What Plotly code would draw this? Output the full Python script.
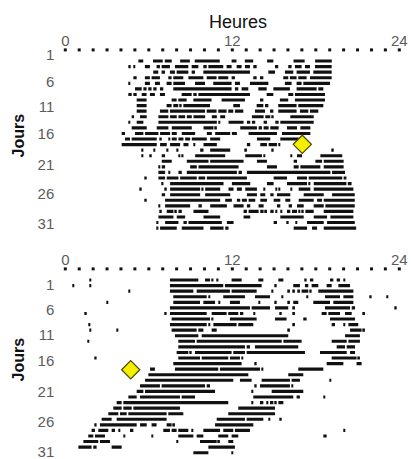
import plotly.graph_objects as go

# ---------------- DATA ----------------
hour_ticks = [0, 12, 24]
hour_tick_text = ["0", "12", "24"]
hour_dots = list(range(25))
day_tick_text = ["1", "6", "11", "16", "21", "26", "31"]

top_days = list(range(1, 32))
top_segments = [
    [(5.25,5.6),(6.3,7.0),(7.15,7.65),(8.25,8.95),(9.3,11.1),(11.95,12.3),(12.9,13.5),(14.5,14.95),(16.4,17.2),(17.95,19.15)],
    [(4.53,4.7),(4.89,5.0),(5.72,6.08),(6.56,6.8),(6.92,7.52),(7.88,8.84),(9.08,9.56),(9.92,10.16),(10.28,11.35),(11.59,11.95),(12.31,12.67),(12.91,13.27),(13.51,13.75),(15.07,15.3),(16.02,16.26),(16.5,16.98),(17.22,17.58),(17.94,19.14)],
    [(6.32,6.68),(6.92,7.16),(7.52,7.88),(8.0,8.84),(9.08,9.32),(9.92,13.27),(14.59,15.07),(15.78,16.38),(16.62,17.58),(17.82,19.14)],
    [(4.89,5.13),(5.72,6.08),(6.2,6.8),(7.4,7.64),(7.76,8.48),(8.84,9.92),(10.16,10.87),(10.99,11.71),(11.95,12.19),(13.51,13.75),(13.99,14.23),(15.66,16.02),(16.14,16.62),(16.74,17.34),(17.58,19.14)],
    [(4.53,4.6),(5.72,6.08),(6.44,6.8),(7.28,7.64),(7.76,8.6),(9.32,10.04),(10.63,11.95),(12.19,12.55),(13.27,14.59),(15.78,16.26),(16.62,16.98),(17.1,19.02)],
    [(5.01,5.49),(5.61,5.84),(5.96,6.2),(6.32,6.56),(6.8,7.04),(7.76,11.95),(12.19,12.43),(12.67,13.15),(13.87,14.47),(14.95,16.14),(16.62,18.06),(18.18,18.54)],
    [(4.53,4.77),(4.89,5.13),(5.49,5.84),(6.08,6.44),(6.8,7.16),(8.36,9.08),(9.2,9.44),(9.56,13.27),(14.47,14.95),(16.02,16.38),(16.5,18.66)],
    [(5.13,5.84),(7.64,8.0),(8.12,8.72),(9.2,10.51),(11.23,12.91),(13.99,14.23),(15.42,16.02),(16.5,18.66)],
    [(5.13,5.84),(7.28,7.64),(7.76,8.12),(8.24,8.36),(8.48,10.4),(12.07,12.55),(13.75,14.23),(14.35,14.59),(15.3,16.62),(16.74,18.54)],
    [(5.13,5.84),(6.8,7.4),(7.52,10.04),(10.16,10.87),(10.99,11.59),(11.71,12.07),(12.19,12.79),(13.63,14.35),(14.71,14.95),(15.3,16.62),(16.86,17.46),(17.58,18.18)],
    [(4.77,4.94),(5.37,5.85),(6.69,7.41),(7.53,8.01),(8.13,8.61),(8.73,9.09),(9.21,10.05),(10.53,10.89),(11.13,11.49),(13.41,14.25),(14.37,14.73),(14.85,14.97),(16.17,17.85)],
    [(4.53,4.65),(5.13,5.61),(6.69,10.89),(11.01,11.13),(11.73,12.81),(13.05,13.29),(13.41,13.65),(14.25,14.49),(15.09,15.33),(15.45,17.85)],
    [(4.77,5.85),(6.57,7.41),(7.65,9.09),(9.93,10.65),(10.77,10.89),(12.57,13.77),(13.89,14.13),(14.25,14.61),(14.73,15.33),(15.93,16.65),(16.89,17.61)],
    [(4.05,4.29),(5.01,5.61),(5.73,6.69),(6.81,7.53),(7.65,8.01),(8.37,9.33),(10.17,10.53),(10.77,11.85),(11.97,12.33),(13.17,15.21),(15.57,17.61)],
    [(4.29,4.65),(4.77,6.57),(6.81,6.93),(7.41,7.53),(7.65,8.01),(8.13,8.49),(8.61,8.97),(9.09,10.17),(10.41,11.13),(13.77,14.73),(15.45,16.77)],
    [(4.05,6.57),(6.81,7.29),(7.53,8.25),(8.49,8.85),(9.21,9.33),(9.93,10.89),(13.05,13.29),(14.01,14.49),(14.61,15.21),(15.33,15.45)],
    [(5.49,5.61),(6.33,6.45),(7.29,7.41),(8.01,8.13),(9.69,9.93),(10.41,11.85),(12.93,13.05),(14.85,14.97),(19.17,19.29)],
    [(5.49,5.61),(6.09,6.21),(6.93,7.17),(8.13,8.25),(8.37,8.49),(9.33,11.49),(12.93,14.13),(14.25,14.37),(16.17,16.29),(16.65,17.01),(18.33,19.9)],
    [(6.93,7.65),(8.73,10.29),(10.41,12.81),(13.77,14.49),(16.41,16.65),(17.97,18.45),(18.57,20.0)],
    [(6.69,6.81),(6.93,7.17),(8.97,9.45),(9.57,12.45),(14.49,15.21),(16.41,16.77),(16.89,18.33),(18.57,20.0)],
    [(6.69,7.17),(7.41,7.53),(8.13,8.37),(8.73,12.33),(12.45,12.69),(13.05,19.05),(19.17,20.1)],
    [(5.73,5.85),(6.69,7.17),(7.29,8.13),(8.25,9.45),(9.57,10.05),(10.17,13.05),(14.97,15.93),(16.65,17.37),(17.49,19.9),(20.0,20.2)],
    [(6.93,7.05),(7.53,11.37),(11.97,13.29),(14.49,14.97),(15.93,17.37),(17.49,17.61),(17.85,20.2),(20.3,20.57)],
    [(5.37,5.49),(7.17,7.29),(7.53,9.69),(9.81,9.93),(10.05,11.13),(11.73,12.09),(12.33,12.69),(12.93,13.77),(14.25,14.37),(15.09,15.21),(15.33,15.45),(16.17,16.29),(16.77,17.61),(17.85,20.7)],
    [(6.93,7.17),(7.53,9.69),(10.05,11.85),(13.05,13.77),(14.01,14.37),(14.73,14.97),(15.21,16.17),(17.13,18.57),(19.17,20.8)],
    [(5.73,5.85),(7.17,11.13),(11.49,11.97),(12.33,12.57),(12.69,13.05),(13.17,13.65),(14.01,14.49),(14.97,15.45),(15.81,16.17),(16.77,17.85),(18.09,18.45),(18.57,20.8)],
    [(6.69,6.81),(7.17,8.97),(9.57,9.81),(10.41,11.61),(12.09,12.81),(13.05,13.29),(13.89,14.25),(15.21,15.45),(16.05,16.29),(16.65,17.13),(17.85,18.57),(18.69,20.8)],
    [(6.81,6.93),(7.29,7.77),(7.89,8.01),(8.13,8.37),(9.21,10.29),(12.81,13.05),(13.17,13.89),(14.01,14.25),(14.37,14.49),(14.73,14.97),(15.09,15.21),(15.45,15.57),(15.93,16.17),(16.29,16.65),(16.77,16.89),(17.01,17.13),(17.25,17.85),(18.57,20.7)],
    [(6.69,7.77),(8.01,8.61),(9.93,11.13),(12.81,13.29),(15.45,17.13),(17.85,18.81),(19.05,20.7)],
    [(6.57,6.69),(7.17,8.13),(8.49,8.73),(8.85,11.25),(11.61,12.09),(14.97,15.21),(15.93,16.05),(16.53,16.65),(17.37,18.57),(18.81,20.8)],
    [(6.57,6.69),(6.81,8.01),(8.37,9.93),(10.41,11.37),(11.49,11.73),(16.41,17.37),(17.73,18.09),(18.57,20.9)],
]

bottom_days = list(range(1, 33))
bottom_segments = [
    [(1.77,1.85),(7.52,9.56),(10.04,10.4),(10.52,10.64),(10.88,11.0),(11.95,12.67),(13.87,14.23),(15.31,15.67),(17.22,17.34),(17.58,17.82),(19.02,19.26),(19.5,19.74),(19.98,20.1)],
    [(0.53,0.63),(1.73,1.82),(7.52,11.35),(11.47,14.11),(15.07,15.19),(16.38,16.86),(17.22,17.46),(17.7,18.18),(18.78,19.14),(19.62,20.46)],
    [(4.53,4.65),(7.52,9.2),(9.44,11.83),(11.95,13.75),(14.83,14.95),(16.02,16.14),(16.38,16.5),(16.74,16.86),(16.98,17.46),(17.58,17.7),(18.18,20.7)],
    [(7.76,10.16),(10.28,10.4),(11.35,12.91),(13.63,14.71),(15.55,15.67),(17.34,17.46),(18.66,19.74),(19.98,20.7),(21.89,22.01),(23.09,23.21)],
    [(2.97,3.09),(7.76,9.68),(9.92,10.76),(11.0,11.12),(11.83,12.55),(13.87,13.99),(15.07,15.19),(16.02,16.14),(16.38,16.74),(17.82,19.02),(19.26,20.7)],
    [(7.52,13.27),(13.39,14.71),(15.07,16.02),(16.38,16.5),(18.66,20.46),(20.58,20.82),(23.69,23.81)],
    [(1.4,1.54),(7.16,7.28),(7.52,10.16),(10.52,11.59),(11.71,12.43),(12.55,12.79),(13.51,13.63),(15.43,15.55),(16.38,16.5),(18.42,18.78),(18.9,19.74),(20.1,20.58),(21.41,21.53)],
    [(7.64,10.4),(10.52,10.64),(11.83,13.75),(15.07,15.9),(17.1,17.34),(19.02,20.82)],
    [(1.7,1.8),(7.52,10.16),(10.28,10.4),(10.64,12.31),(12.43,13.51),(16.38,16.5),(19.14,19.38),(19.98,20.1),(20.34,21.05)],
    [(1.77,1.85),(3.69,3.81),(7.64,9.44),(9.56,9.92),(10.52,10.88),(16.02,16.14),(20.46,21.29),(21.41,21.53)],
    [(7.88,9.56),(9.8,16.02),(20.1,21.17)],
    [(1.6,1.7),(8.12,9.32),(9.44,15.55),(15.67,16.98),(19.14,20.22),(20.34,21.17)],
    [(8.12,12.91),(13.03,13.27),(13.63,16.74),(19.5,20.1),(20.22,20.82)],
    [(8.0,8.84),(8.96,9.08),(9.32,11.95),(12.07,12.91),(13.03,17.22),(18.3,20.22),(20.46,20.82)],
    [(2.13,2.25),(8.12,9.68),(9.8,11.71),(11.83,12.55),(12.67,12.79),(19.14,20.93),(21.05,21.17)],
    [(7.76,12.67),(13.63,13.75),(18.78,19.98),(20.93,21.29)],
    [(6.09,6.44),(7.88,10.99),(11.11,13.99),(14.11,14.23),(16.74,18.54)],
    [(5.97,13.15),(16.02,17.1)],
    [(5.73,12.07),(12.55,13.39),(14.11,16.14),(16.26,16.86),(19.02,19.1)],
    [(5.37,6.8),(6.92,10.04),(10.16,10.4),(13.63,13.75),(13.99,16.14),(16.26,16.38)],
    [(5.13,5.61),(5.73,10.76),(13.39,13.51),(14.83,17.1)],
    [(4.53,5.13),(5.37,8.24),(8.36,9.32),(13.51,16.38),(16.62,16.86),(18.54,18.66)],
    [(3.69,4.05),(4.17,11.71),(13.39,13.51),(13.99,14.23),(14.47,14.59),(14.71,14.95),(15.07,15.19),(15.31,15.67)],
    [(3.45,4.05),(4.17,4.77),(4.89,8.24),(12.43,15.07)],
    [(3.09,3.81),(3.93,4.41),(4.53,7.28),(7.4,8.48),(11.71,15.07)],
    [(2.61,3.33),(3.69,7.28),(10.88,12.91),(13.03,14.23),(14.59,14.71),(15.43,15.55)],
    [(2.13,2.25),(2.49,5.13),(5.37,5.85),(6.2,6.56),(7.28,7.64),(7.76,7.88),(10.76,13.51)],
    [(1.89,2.13),(2.37,3.09),(3.33,3.57),(3.81,3.93),(4.65,4.89),(7.04,7.52),(7.64,8.0),(8.12,8.84),(9.08,9.2),(9.92,11.12),(11.35,12.07),(12.19,13.27),(19.98,20.1)],
    [(1.65,2.01),(2.13,2.85),(4.17,4.29),(6.2,6.32),(8.12,9.2),(9.44,9.92),(10.99,11.71),(11.95,12.43),(18.54,18.78)],
    [(1.3,2.37),(2.49,3.21),(8.0,8.12),(9.68,10.88),(10.99,11.11),(11.71,12.07)],
    [(0.94,1.89),(2.01,2.25),(3.33,4.05),(10.28,12.19)],
    [(9.2,10.28),(11.95,12.07)],
]

top_marker = {"hour": [17.03], "day": [15.95]}
bottom_marker = {"hour": [4.7], "day": [17.1]}

# ---------------- LAYOUT CONSTANTS ----------------
AXIS_ROW = -1
TOP_LABEL_POS = [-0.08, 4.71, 9.2, 13.99, 19.67, 24.76, 30.15]
BOT_LABEL_POS = [1.77, 6.39, 10.87, 15.54, 21.05, 26.44, 31.83]
XDOM = [65.3 / 412, 399.3 / 412]
H = 459
TOP_DOM = [1 - 233.7 / H, 1 - 49.9 / H]
BOT_DOM = [1 - 456.6 / H, 1 - 268.9 / H]
GRAY = "#5c5c5c"
FONT = "Liberation Sans, Arial, sans-serif"

fig = go.Figure()


def add_panel(days, segs, marker, xa, ya):
    ys, bases, lens = [], [], []
    for d, row in zip(days, segs):
        for s, e in row:
            ys.append(d)
            bases.append(s)
            lens.append(e - s)
    fig.add_trace(go.Bar(
        x=lens, base=bases, y=ys, orientation="h", width=0.56,
        marker=dict(color="#111111", line=dict(width=0)),
        xaxis=xa, yaxis=ya, showlegend=False, hoverinfo="skip"))
    fig.add_trace(go.Scatter(
        x=hour_dots, y=[AXIS_ROW] * len(hour_dots), mode="markers",
        marker=dict(symbol="square", size=3, color="#111111"),
        cliponaxis=False, xaxis=xa, yaxis=ya, showlegend=False, hoverinfo="skip"))
    fig.add_trace(go.Scatter(
        x=marker["hour"], y=marker["day"], mode="markers",
        marker=dict(symbol="diamond", size=14, color="#f7ef00",
                    line=dict(width=1.2, color="#4a4a00")),
        cliponaxis=False, xaxis=xa, yaxis=ya, showlegend=False, hoverinfo="skip"))


add_panel(top_days, top_segments, top_marker, "x", "y")
add_panel(bottom_days, bottom_segments, bottom_marker, "x2", "y2")

xcommon = dict(range=[0, 24], side="top", tickvals=hour_ticks, ticktext=hour_tick_text,
               showgrid=False, zeroline=False, showline=False, ticks="", automargin=False,
               ticklabeloverflow="allow",
               tickfont=dict(size=15, color=GRAY, family=FONT), domain=XDOM, fixedrange=True)
ycommon = dict(ticktext=day_tick_text, showgrid=False, zeroline=False, showline=False,
               ticks="outside", ticklen=7, tickcolor="rgba(0,0,0,0)", automargin=False,
               ticklabeloverflow="allow",
               tickfont=dict(size=15, color=GRAY, family=FONT), fixedrange=True)

fig.update_layout(
    width=412, height=459,
    margin=dict(l=0, r=0, t=0, b=0, pad=0, autoexpand=False),
    paper_bgcolor="white", plot_bgcolor="white",
    barmode="overlay",
    showlegend=False,
    xaxis=dict(anchor="y", **xcommon),
    xaxis2=dict(anchor="y2", **xcommon),
    yaxis=dict(anchor="x", domain=TOP_DOM, range=[32, -1], tickvals=TOP_LABEL_POS, **ycommon),
    yaxis2=dict(anchor="x2", domain=BOT_DOM, range=[32.7, -1], tickvals=BOT_LABEL_POS, **ycommon),
    annotations=[
        dict(text="Heures", x=238 / 412, y=1 - 22 / H, xref="paper", yref="paper",
             xanchor="center", yanchor="middle",
             showarrow=False, font=dict(size=18, color="#111111", family=FONT)),
        dict(text="<b>Jours</b>", x=17.5 / 412, y=1 - 136 / H, xref="paper", yref="paper",
             xanchor="center", yanchor="middle",
             showarrow=False, textangle=-90, font=dict(size=16, color="#111111", family=FONT)),
        dict(text="<b>Jours</b>", x=17.5 / 412, y=1 - 360 / H, xref="paper", yref="paper",
             xanchor="center", yanchor="middle",
             showarrow=False, textangle=-90, font=dict(size=16, color="#111111", family=FONT)),
    ],
)

fig.write_html("out.html", config={"displayModeBar": False},
               post_script="document.body.style.margin='0px';document.body.style.overflow='hidden';")
